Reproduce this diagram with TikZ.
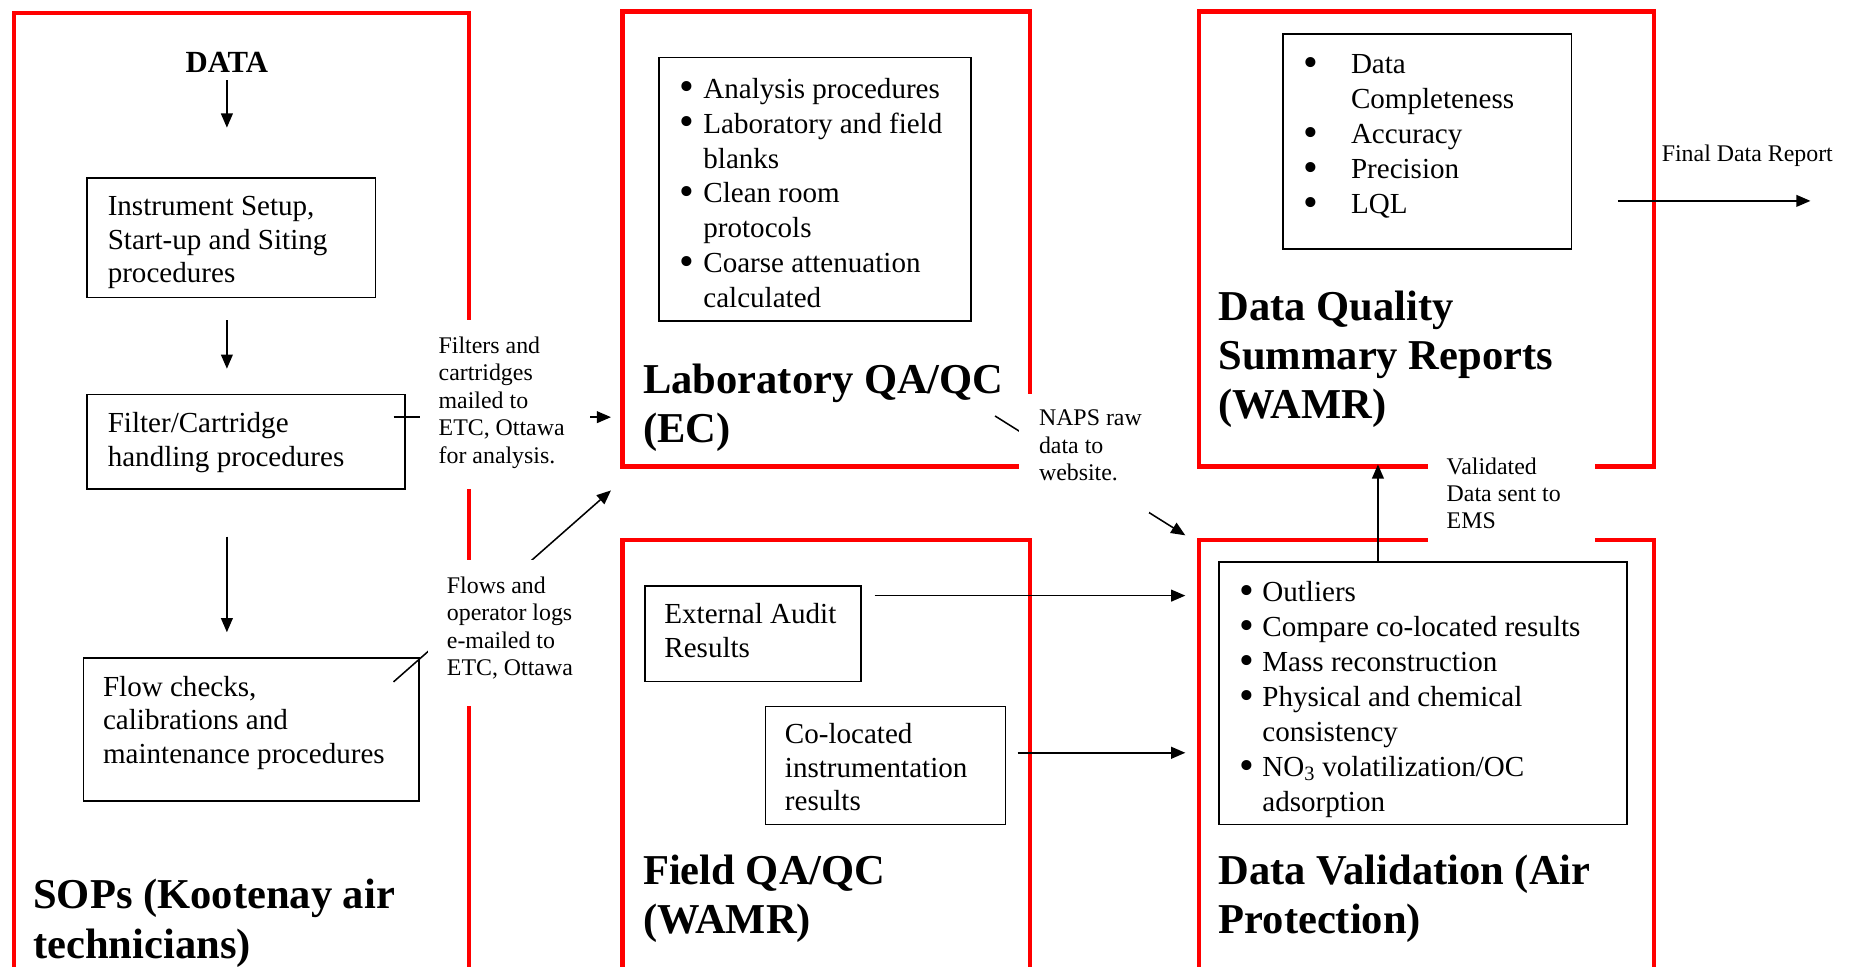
\documentclass[tikz,border=0pt]{standalone}
\usepackage{fontspec}
\setmainfont{Liberation Serif}
\usetikzlibrary{arrows.meta}
\newcommand\bodyfont{\fontsize{24.6}{28.6}\selectfont}
\newcommand\listfont{\fontsize{24.6}{29.6}\selectfont}
\newcommand\ttlfont{\fontsize{36}{41.5}\selectfont\bfseries}
\newcommand\smfont{\fontsize{20.2}{23.2}\selectfont}
\newcommand\bl[1]{\makebox[#1][l]{\smash{\raisebox{-0.1em}{\scalebox{1.45}{\textbullet}}}}}
\tikzset{
  redbox/.style={draw=red, line width=3.6pt, line join=miter, inner sep=0pt, anchor=north west},
  bx/.style={draw=black, line width=1.3pt, inner sep=0pt, anchor=north west},
  body/.style={font=\bodyfont, align=left, inner sep=0pt, anchor=north west, execute at begin node={\rule{0pt}{20.3pt}}},
  lst/.style={font=\listfont, align=left, inner sep=0pt, anchor=north west, execute at begin node={\rule{0pt}{20.3pt}}},
  ttl/.style={font=\ttlfont, align=left, inner sep=0pt, anchor=north west, execute at begin node={\rule{0pt}{29pt}}},
  sm/.style={font=\smfont, align=left, inner sep=0pt, anchor=north west, execute at begin node={\rule{0pt}{16.1pt}}},
  arr/.style={line width=1.3pt, -{Triangle[length=12pt,width=10pt]}},
  cover/.style={fill=white, draw=none},
}
\begin{document}
\begin{tikzpicture}[x=1pt,y=-1pt]
\useasboundingbox (0,0) rectangle (1568,818);
\clip (0,0) rectangle (1568,818);

% red frames
\node[redbox, minimum width=385pt, minimum height=812pt] (A) at (10,9) {};
\node[redbox, minimum width=345pt, minimum height=385pt] (B) at (525,8) {};
\node[redbox, minimum width=385pt, minimum height=385pt] (C) at (1013,8) {};
\node[redbox, minimum width=385pt, minimum height=366pt] (D) at (1013,455) {};
\node[redbox, minimum width=345pt, minimum height=366pt] (E) at (525,455) {};

% black boxes
\node[bx, minimum width=244pt, minimum height=101pt] (inst) at (73,150) {};
\node[bx, minimum width=269pt, minimum height=80pt] (filt) at (73,333) {};
\node[bx, minimum width=284pt, minimum height=121pt] (flow) at (70,556) {};
\node[bx, minimum width=264pt, minimum height=223pt] (labl) at (557,48) {};
\node[bx, minimum width=244pt, minimum height=182pt] (dql) at (1085,28) {};
\node[bx, minimum width=183pt, minimum height=81pt] (ext) at (545,495) {};
\node[bx, minimum width=203pt, minimum height=100pt] (col) at (647,597) {};
\node[bx, minimum width=345pt, minimum height=222pt] (val) at (1031,475) {};

% connector end points
\coordinate (d1) at (192,68);   \coordinate (d2) at (192,108);
\coordinate (i1) at (192,271);  \coordinate (i2) at (192,312);
\coordinate (f1) at (192,454);  \coordinate (f2) at (192,535);
\coordinate (m1) at (333,353);  \coordinate (m2) at (517,353);
\coordinate (e1) at (333,577);  \coordinate (e2) at (517,415);
\coordinate (n1) at (842,352);  \coordinate (n2) at (1003,453);
\coordinate (x1) at (740,504);  \coordinate (x2) at (1003,504);
\coordinate (c1) at (861,637);  \coordinate (c2) at (1003,637);
\coordinate (v1) at (1166,475); \coordinate (v2) at (1166,393);
\coordinate (r1) at (1369,170); \coordinate (r2) at (1532,170);

\draw[arr] (d1) -- (d2);
\draw[arr] (i1) -- (i2);
\draw[arr] (f1) -- (f2);
\draw[arr] (m1) -- (m2);
\draw[arr] (e1) -- (e2);
\draw[arr] (n1) -- (n2);
\draw[arr] (x1) -- (x2);
\draw[arr] (c1) -- (c2);
\draw[arr] (v1) -- (v2);
\draw[arr] (r1) -- (r2);

% white covers under the connector labels
\path[cover] (355,271) rectangle (499,414);
\path[cover] (362,474) rectangle (490,597);
\path[cover] (862,333) rectangle (972,434);
\path[cover] (1208,378) rectangle (1350,462);

% labels
\node[font=\fontsize{26}{30}\selectfont\bfseries, inner sep=0pt, anchor=base] (data) at (192,61) {DATA};
\node[sm] (lfilt) at (371,284.9) {Filters and\\cartridges\\mailed to\\ETC, Ottawa\\for analysis.};
\node[sm] (lflow) at (378,487.9) {Flows and\\operator logs\\e-mailed to\\ETC, Ottawa};
\node[sm] (lnaps) at (879,346.9) {NAPS raw\\data to\\website.};
\node[sm] (lval) at (1224,386.9) {Validated\\Data sent to\\EMS};
\node[sm] (lfin) at (1406,120.4) {Final Data Report};

% box texts
\node[body] (tinst) at (91,165.7) {Instrument Setup,\\Start-up and Siting\\procedures};
\node[body] (tfilt) at (91,348.7) {Filter/Cartridge\\handling procedures};
\node[body] (tflow) at (87,571.7) {Flow checks,\\calibrations and\\maintenance procedures};
\node[lst] (tlab) at (575,65.7) {\bl{20pt}Analysis procedures\\\bl{20pt}Laboratory and field\\\hspace*{20pt}blanks\\\bl{20pt}Clean room\\\hspace*{20pt}protocols\\\bl{20pt}Coarse attenuation\\\hspace*{20pt}calculated};
\node[lst] (tdq) at (1103,46.2) {\bl{40pt}Data\\\hspace*{40pt}Completeness\\\bl{40pt}Accuracy\\\bl{40pt}Precision\\\bl{40pt}LQL};
\node[body] (text) at (562,510.2) {External Audit\\Results};
\node[body] (tcol) at (664,611.7) {Co-located\\instrumentation\\results};
\node[lst] (tval) at (1049,491.7) {\bl{19pt}Outliers\\\bl{19pt}Compare co-located results\\\bl{19pt}Mass reconstruction\\\bl{19pt}Physical and chemical\\\hspace*{19pt}consistency\\\bl{19pt}NO\textsubscript{3} volatilization/OC\\\hspace*{19pt}adsorption};

% titles
\node[ttl] (tA) at (28,744) {SOPs (Kootenay air\\technicians)};
\node[ttl] (tB) at (544,308) {Laboratory QA/QC\\(EC)};
\node[ttl] (tC) at (1031,246) {Data Quality\\Summary Reports\\(WAMR)};
\node[ttl] (tE) at (544,723) {Field QA/QC\\(WAMR)};
\node[ttl] (tD) at (1031,723) {Data Validation (Air\\Protection)};
\end{tikzpicture}
\end{document}
